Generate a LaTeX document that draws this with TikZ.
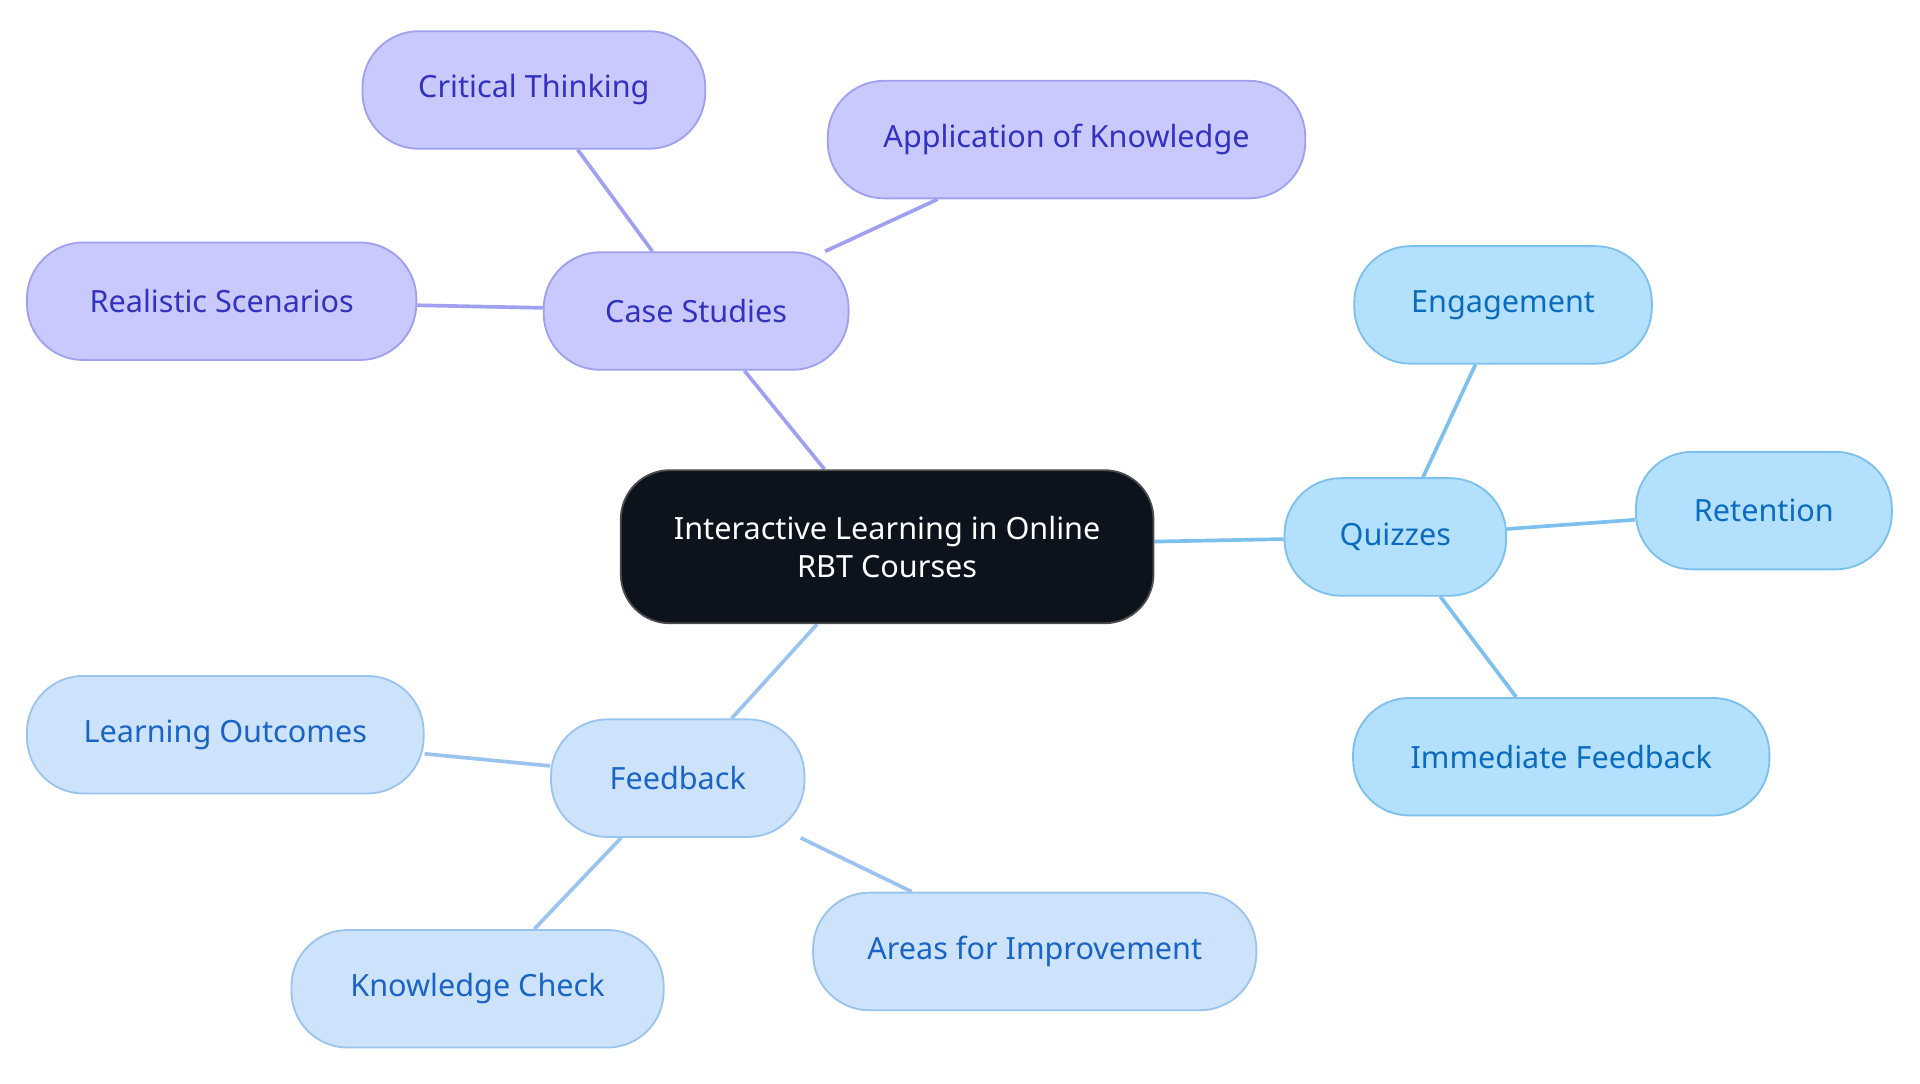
\documentclass[tikz,border=0pt]{standalone}
\usepackage{fontspec}
\setmainfont{Noto Sans}
\usetikzlibrary{backgrounds}
\definecolor{pf}{HTML}{C9C9FD}\definecolor{ps}{HTML}{A0A0F0}\definecolor{pt}{HTML}{3232C0}
\definecolor{qf}{HTML}{B3E0FD}\definecolor{qs}{HTML}{7CC0EE}\definecolor{qt}{HTML}{0B6BBF}
\definecolor{ff}{HTML}{CDE3FB}\definecolor{fs}{HTML}{9AC4EF}\definecolor{ft}{HTML}{1A64C6}
\definecolor{cf}{HTML}{0C131C}
\begin{document}
\begin{tikzpicture}[x=1pt,y=-1pt,
 box/.style={rounded corners=46pt,line width=1.5pt,minimum height=96pt,inner sep=0pt,font=\fontsize{25}{31}\selectfont,align=center},
 pb/.style={box,fill=pf,draw=ps,text=pt},
 qb/.style={box,fill=qf,draw=qs,text=qt},
 fb/.style={box,fill=ff,draw=fs,text=ft},
 pe/.style={draw=ps,line width=3pt},
 qe/.style={draw=qs,line width=3pt},
 fe/.style={draw=fs,line width=3pt}]
\useasboundingbox (0,0) rectangle (1568,885);
\node[box,fill=cf,draw=black!70,text=white,minimum width=435pt,minimum height=125pt,rounded corners=40pt] (c) at (724.5,446.5) {Interactive Learning in Online\\RBT Courses};
\node[pb,minimum width=249pt] (cs) at (568.5,254) {Case Studies};
\node[pb,minimum width=280pt] (ct) at (436,73.5) {Critical Thinking};
\node[pb,minimum width=390pt] (ak) at (871,114) {Application of Knowledge};
\node[pb,minimum width=318pt] (rs) at (181,246) {Realistic Scenarios};
\node[qb,minimum width=181pt] (q) at (1139.5,438.5) {Quizzes};
\node[qb,minimum width=243pt] (en) at (1227.5,249) {Engagement};
\node[qb,minimum width=209pt] (re) at (1440.5,417) {Retention};
\node[qb,minimum width=340pt] (if) at (1275,618) {Immediate Feedback};
\node[fb,minimum width=207pt] (f) at (553.5,635.5) {Feedback};
\node[fb,minimum width=324pt] (lo) at (184,600) {Learning Outcomes};
\node[fb,minimum width=304pt] (kc) at (390,807.5) {Knowledge Check};
\node[fb,minimum width=362pt] (ai) at (845,777) {Areas for Improvement};
\begin{scope}[on background layer]
\path[pe] (c) -- (cs); \path[pe] (cs) -- (ct); \path[pe] (cs) -- (ak); \path[pe] (cs) -- (rs);
\path[qe] (c) -- (q); \path[qe] (q) -- (en); \path[qe] (q) -- (re); \path[qe] (q) -- (if);
\path[fe] (c) -- (f); \path[fe] (f) -- (lo); \path[fe] (f) -- (kc); \path[fe] (f) -- (ai);
\end{scope}
\end{tikzpicture}
\end{document}
